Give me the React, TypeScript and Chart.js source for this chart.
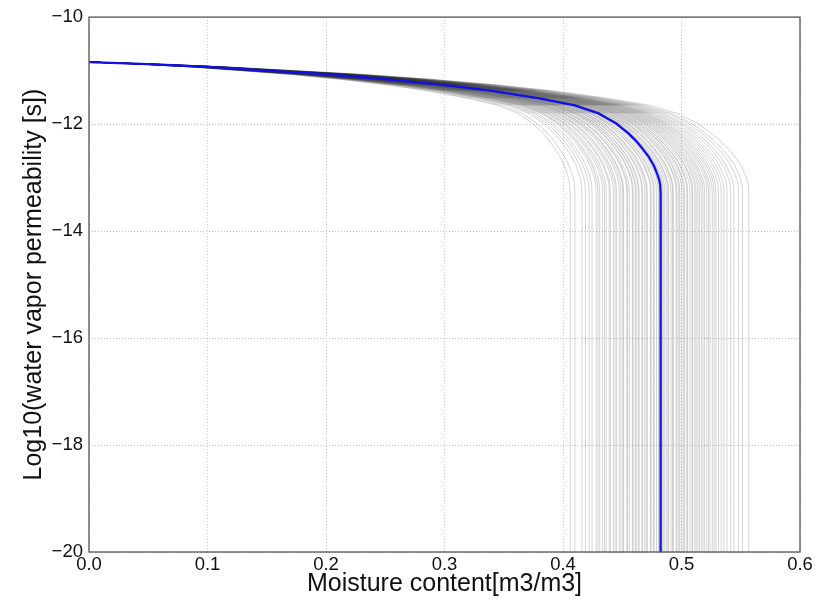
import React, { useEffect, useRef } from "react";
import { Chart, registerables } from "chart.js";

Chart.register(...registerables);

// Axis ticks
const xTicks = [0, 0.1, 0.2, 0.3, 0.4, 0.5, 0.6];
const yTicks = [-20, -18, -16, -14, -12, -10];

// Mean (blue) curve: moisture content vs log10 permeability
const meanTheta = [
  0, 0.05, 0.1, 0.15, 0.2, 0.25, 0.3, 0.34, 0.38, 0.41, 0.43, 0.445, 0.455,
  0.461, 0.466, 0.472, 0.4765, 0.4795, 0.4813, 0.4821, 0.4824, 0.4824,
];
const meanLogPerm = [
  -10.84, -10.88, -10.93, -11.0, -11.07, -11.16, -11.27, -11.38, -11.52,
  -11.65, -11.8, -11.99, -12.17, -12.3, -12.43, -12.6, -12.77, -12.93,
  -13.05, -13.15, -13.3, -20,
];
const meanSaturation = 0.4824;

// Saturated moisture content of each grey sample curve (vertical asymptotes)
const sampleSaturations = [
  0.406, 0.41, 0.416, 0.419, 0.422, 0.4245, 0.428, 0.4295, 0.431, 0.4335,
  0.435, 0.4365, 0.439, 0.44, 0.4425, 0.444, 0.4452, 0.4475, 0.449, 0.4505,
  0.4512, 0.4538, 0.4546, 0.456, 0.4585, 0.4592, 0.461, 0.4618, 0.4635,
  0.4642, 0.4665, 0.4672, 0.469, 0.4703, 0.4712, 0.4738, 0.4744, 0.4762,
  0.4771, 0.4789, 0.4805, 0.4812, 0.4838, 0.4846, 0.4858, 0.4872, 0.4885,
  0.4891, 0.4912, 0.4925, 0.4931, 0.4955, 0.4962, 0.4978, 0.4986, 0.5003,
  0.5018, 0.5026, 0.5045, 0.5052, 0.5071, 0.5088, 0.5095, 0.5112, 0.5124,
  0.5139, 0.5152, 0.5168, 0.5181, 0.5195, 0.5213, 0.5228, 0.5241, 0.526,
  0.5275, 0.529, 0.5312, 0.5335, 0.5358, 0.5384, 0.5415, 0.5442, 0.5482,
  0.5515, 0.5568,
];

const xTitle = "Moisture content[m3/m3]";
const yTitle = "Log10(water vapor permeability [s])";

const FONT = "'Liberation Sans', Arial, Helvetica, sans-serif";

const framePlugin = {
  id: "frame",
  afterDatasetsDraw(chart: any) {
    const { ctx, chartArea } = chart;
    const { left, top, right, bottom } = chartArea;
    ctx.save();
    ctx.strokeStyle = "#555555";
    ctx.lineWidth = 1.3;
    ctx.strokeRect(left, top, right - left, bottom - top);
    ctx.restore();
  },
};

export default function App() {
  const canvasRef = useRef<HTMLCanvasElement | null>(null);

  useEffect(() => {
    document.body.style.margin = "0";
    const canvas = canvasRef.current;
    if (!canvas) return;

    const meanData = meanTheta.map((x, i) => ({ x, y: meanLogPerm[i] }));

    const greyDatasets = sampleSaturations.map((s) => ({
      data: meanTheta.map((x, i) => ({
        x: (x * s) / meanSaturation,
        y: meanLogPerm[i],
      })),
      borderColor: "rgba(40,40,40,0.2)",
      borderWidth: 1,
      tension: 0.01,
      pointRadius: 0,
      showLine: true,
      fill: false,
      order: 1,
    }));

    const chart = new Chart(canvas, {
      type: "scatter",
      data: {
        datasets: [
          {
            data: meanData,
            borderColor: "#1010e8",
            borderWidth: 2.3,
            tension: 0.01,
            pointRadius: 0,
            showLine: true,
            fill: false,
            order: 0,
          },
          ...greyDatasets,
        ],
      },
      options: {
        responsive: false,
        animation: false,
        devicePixelRatio: 1,
        layout: { padding: { top: 17, right: 27, left: 0, bottom: 0 } },
        plugins: {
          legend: { display: false },
          tooltip: { enabled: false },
        },
        scales: {
          x: {
            type: "linear",
            min: xTicks[0],
            max: xTicks[xTicks.length - 1],
            afterBuildTicks: (scale: any) => {
              scale.ticks = xTicks.map((v) => ({ value: v }));
            },
            afterFit: (scale: any) => {
              scale.height = 52;
            },
            ticks: {
              padding: 2,
              color: "#111",
              font: { family: FONT, size: 18.5 },
              callback: (v: any) => Number(v).toFixed(1),
              maxRotation: 0,
              autoSkip: false,
            },
            grid: {
              color: "#c4c4c4",
              lineWidth: 1,
              drawTicks: false,
            },
            border: { display: false, dash: [1, 2] },
            title: {
              display: true,
              text: xTitle,
              color: "#111",
              font: { family: FONT, size: 25 },
              padding: { top: 0, bottom: 5 },
            },
          },
          y: {
            type: "linear",
            min: yTicks[0],
            max: yTicks[yTicks.length - 1],
            afterBuildTicks: (scale: any) => {
              scale.ticks = yTicks.map((v) => ({ value: v }));
            },
            afterFit: (scale: any) => {
              scale.width = 89;
            },
            ticks: {
              padding: 6,
              color: "#111",
              font: { family: FONT, size: 18.5 },
              callback: (v: any) =>
                Number(v) < 0 ? "\u2212" + Math.abs(Number(v)) : String(v),
              autoSkip: false,
            },
            grid: {
              color: "#c4c4c4",
              lineWidth: 1,
              drawTicks: false,
            },
            border: { display: false, dash: [1, 2] },
            title: {
              display: true,
              text: yTitle,
              color: "#111",
              font: { family: FONT, size: 25 },
              padding: { top: 19, bottom: 0 },
            },
          },
        },
      },
      plugins: [framePlugin],
    } as any);

    return () => {
      chart.destroy();
    };
  }, []);

  return (
    <div style={{ width: 827, height: 604 }}>
      <canvas
        ref={canvasRef}
        width={827}
        height={604}
        style={{ display: "block", width: 827, height: 604 }}
      />
    </div>
  );
}
